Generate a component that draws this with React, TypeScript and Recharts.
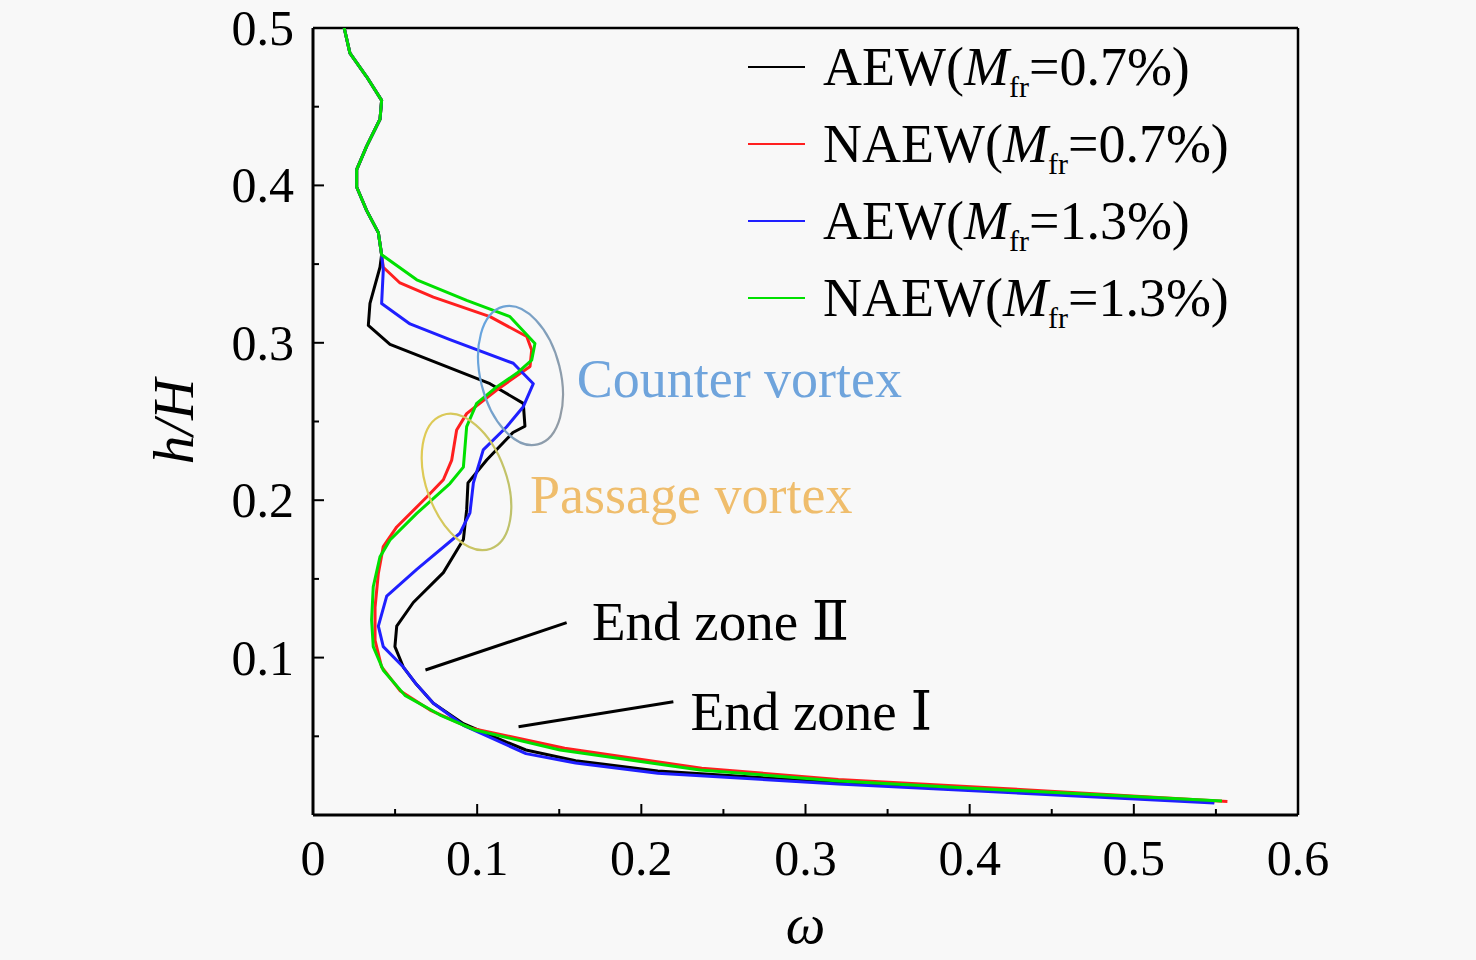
import React from 'react'
import { LineChart, Line, XAxis, YAxis, Legend, ReferenceLine, ReferenceDot } from 'recharts'

const FONT = "'Liberation Serif', 'Times New Roman', 'DejaVu Serif', serif"

// axis ticks (major every 0.1, minor in between)
const xTicks = [0, 0.05, 0.1, 0.15, 0.2, 0.25, 0.3, 0.35, 0.4, 0.45, 0.5, 0.55, 0.6]
const yTicks = [0.05, 0.1, 0.15, 0.2, 0.25, 0.3, 0.35, 0.4, 0.45, 0.5]

// [omega, h/H] – upper part shared by all four cases
const upperProfile: [number, number][] = [
  [0.019, 0.5], [0.0225, 0.484], [0.0327, 0.469], [0.0418, 0.454], [0.0408, 0.442],
  [0.0327, 0.425], [0.0266, 0.41], [0.0266, 0.399], [0.0327, 0.384], [0.0398, 0.37],
  [0.0418, 0.356],
]

const aew07Lower: [number, number][] = [
  [0.0408, 0.348], [0.0347, 0.325], [0.0337, 0.311], [0.0469, 0.299], [0.1078, 0.274],
  [0.1281, 0.2615], [0.1291, 0.247], [0.1218, 0.243], [0.1058, 0.2255], [0.0944, 0.211],
  [0.0936, 0.194], [0.0916, 0.175], [0.0794, 0.154], [0.0611, 0.135], [0.051, 0.12],
  [0.0499, 0.107], [0.055, 0.094], [0.063, 0.083], [0.0733, 0.071], [0.0916, 0.058],
  [0.1139, 0.048], [0.1297, 0.0413], [0.16, 0.0345], [0.21, 0.028], [0.32, 0.0206],
  [0.4204, 0.0156], [0.549, 0.0083],
]

const naew07Lower: [number, number][] = [
  [0.0428, 0.348], [0.053, 0.338], [0.0733, 0.329], [0.1078, 0.3166], [0.1302, 0.304],
  [0.1332, 0.2954], [0.1322, 0.285], [0.1119, 0.27], [0.0936, 0.255], [0.0875, 0.2446],
  [0.0845, 0.2255], [0.0794, 0.213], [0.0693, 0.202], [0.051, 0.183], [0.0428, 0.1705],
  [0.0398, 0.1535], [0.0378, 0.132], [0.0378, 0.111], [0.0418, 0.094], [0.053, 0.079],
  [0.0713, 0.0667], [0.0956, 0.0553], [0.1533, 0.0424], [0.2368, 0.0297], [0.32, 0.0226],
  [0.4204, 0.0169], [0.557, 0.0085],
]

const aew13Lower: [number, number][] = [
  [0.0428, 0.346], [0.0418, 0.325], [0.0591, 0.312], [0.0834, 0.302], [0.122, 0.287],
  [0.1342, 0.274], [0.1281, 0.2594], [0.118, 0.2467], [0.1037, 0.232], [0.0977, 0.211],
  [0.0956, 0.192], [0.0895, 0.179], [0.0632, 0.156], [0.0449, 0.139], [0.0398, 0.12],
  [0.0428, 0.107], [0.055, 0.094], [0.063, 0.083], [0.0733, 0.071], [0.0916, 0.057],
  [0.1297, 0.039], [0.16, 0.033], [0.21, 0.0265], [0.32, 0.0197], [0.4204, 0.0144],
  [0.549, 0.0076],
]

const naew13Lower: [number, number][] = [
  [0.0632, 0.34], [0.0936, 0.327], [0.12, 0.3166], [0.1352, 0.2996], [0.1332, 0.289],
  [0.1241, 0.2806], [0.1119, 0.272], [0.0997, 0.2615], [0.0936, 0.2467], [0.0916, 0.221],
  [0.0834, 0.2106], [0.0632, 0.1916], [0.0469, 0.1747], [0.0408, 0.164], [0.0367, 0.145],
  [0.0357, 0.124], [0.0367, 0.107], [0.0428, 0.092], [0.056, 0.076], [0.0774, 0.0635],
  [0.0987, 0.054], [0.1505, 0.0413], [0.2357, 0.0286], [0.3204, 0.0216], [0.4204, 0.0159],
  [0.5537, 0.0089],
]

const seriesNames = ['AEW', 'NAEW', 'AEW', 'NAEW']
const seriesMfr = ['0.7%', '0.7%', '1.3%', '1.3%']
const seriesColors = ['#000000', '#ff1f1f', '#1f1fff', '#00e000']
const seriesLower = [aew07Lower, naew07Lower, aew13Lower, naew13Lower]

const toPoints = (pts: [number, number][]) => pts.map(([w, h]) => ({ w, h }))
const seriesData = seriesLower.map(lower => toPoints([...upperProfile, ...lower]))

// annotations, in data coordinates
const vortexRings = [
  { w: 0.1264, h: 0.2792, id: 'ringCounter', from: '#5fa6ea', to: '#9a9a9a', angle: -14 },
  { w: 0.0935, h: 0.2116, id: 'ringPassage', from: '#e6cc50', to: '#b8c070', angle: -20 },
]
const vortexLabels = [
  { w: 0.1606, h: 0.2656, text: 'Counter vortex', color: '#6fa4dc' },
  { w: 0.1322, h: 0.1919, text: 'Passage vortex', color: '#efbd6c' },
]
const zoneLabels = [
  { w: 0.1699, h: 0.1112, text: 'End zone Ⅱ' },
  { w: 0.23, h: 0.054, text: 'End zone Ⅰ' },
]
const zoneLeaders = [
  [{ x: 0.0685, y: 0.0921 }, { x: 0.1545, y: 0.1222 }],
  [{ x: 0.1252, y: 0.0561 }, { x: 0.2195, y: 0.072 }],
]

const isMajor = (v: number) => Math.abs(v * 10 - Math.round(v * 10)) < 1e-6
const fmt = (v: number) => (v === 0 ? '0' : v.toFixed(1))

function XTick({ x, y, payload }: any) {
  const v = payload.value
  const major = isMajor(v)
  return (
    <g>
      <line x1={x} x2={x} y1={y} y2={y - (major ? 11 : 6)} stroke="#000" strokeWidth={2} />
      {major && (
        <text x={x} y={y + 60} textAnchor="middle" fontSize={50} fontFamily={FONT} fill="#000">
          {fmt(v)}
        </text>
      )}
    </g>
  )
}

function YTick({ x, y, payload }: any) {
  const v = payload.value
  const major = isMajor(v)
  return (
    <g>
      <line x1={x} x2={x + (major ? 11 : 6)} y1={y} y2={y} stroke="#000" strokeWidth={2} />
      {major && (
        <text x={x - 19} y={y + 17} textAnchor="end" fontSize={50} fontFamily={FONT} fill="#000">
          {fmt(v)}
        </text>
      )}
    </g>
  )
}

const renderLegend = () => (
  <div style={{ fontFamily: FONT, fontSize: 54, color: '#000' }}>
    {seriesNames.map((n, i) => (
      <div key={i} style={{ display: 'flex', alignItems: 'center', height: 77, whiteSpace: 'nowrap' }}>
        <span style={{ display: 'inline-block', width: 57, height: 2, background: seriesColors[i], marginRight: 18 }} />
        <span>
          {n}(<i>M</i>
          <span style={{ fontSize: 30, position: 'relative', top: 12 }}>fr</span>={seriesMfr[i]})
        </span>
      </div>
    ))}
  </div>
)

export default function App() {
  return (
    <div style={{ position: 'absolute', left: 0, top: 0, width: 1476, height: 960, background: '#f8f8f8' }}>
      <LineChart width={1476} height={960} margin={{ top: 28, right: 178, left: 253, bottom: 85 }}>
        <XAxis
          type="number"
          dataKey="w"
          domain={[0, 0.6]}
          ticks={xTicks}
          interval={0}
          allowDataOverflow
          tickSize={0}
          tickMargin={0}
          tickLine={false}
          tick={<XTick />}
          height={60}
          axisLine={{ stroke: '#000', strokeWidth: 3 }}
          label={{
            content: ({ viewBox }: any) => (
              <text x={viewBox.x + viewBox.width / 2} y={viewBox.y + 128} textAnchor="middle"
                fontSize={56} fontStyle="italic" fontFamily={FONT} fill="#000">ω</text>
            ),
          }}
        />
        <YAxis
          type="number"
          dataKey="h"
          domain={[0, 0.5]}
          ticks={yTicks}
          interval={0}
          allowDataOverflow
          tickSize={0}
          tickMargin={0}
          tickLine={false}
          tick={<YTick />}
          width={60}
          axisLine={{ stroke: '#000', strokeWidth: 3 }}
          label={{
            content: ({ viewBox }: any) => {
              const cx = viewBox.x - 60
              const cy = viewBox.y + viewBox.height / 2
              return (
                <text x={cx} y={cy} transform={`rotate(-90 ${cx} ${cy})`} textAnchor="middle"
                  fontSize={57} fontStyle="italic" fontFamily={FONT} fill="#000">h/H</text>
              )
            },
          }}
        />
        <ReferenceLine y={0.5} stroke="#000" strokeWidth={2.5} />
        <ReferenceLine x={0.6} stroke="#000" strokeWidth={2.5} />

        {seriesData.map((d, i) => (
          <Line
            key={i}
            data={d}
            dataKey="h"
            name={`${seriesNames[i]}(${seriesMfr[i]})`}
            type="linear"
            stroke={seriesColors[i]}
            strokeWidth={3}
            strokeLinejoin="round"
            dot={false}
            isAnimationActive={false}
          />
        ))}

        {vortexRings.map(r => (
          <ReferenceDot
            key={r.id}
            x={r.w}
            y={r.h}
            r={0}
            shape={(p: any) => (
              <g>
                <defs>
                  <linearGradient id={r.id} x1="0" y1="0" x2="1" y2="1">
                    <stop offset="0%" stopColor={r.from} />
                    <stop offset="100%" stopColor={r.to} />
                  </linearGradient>
                </defs>
                <ellipse cx={p.cx} cy={p.cy} rx={40} ry={71} fill="none" stroke={`url(#${r.id})`}
                  strokeWidth={2.2} transform={`rotate(${r.angle} ${p.cx} ${p.cy})`} />
              </g>
            )}
          />
        ))}
        {vortexLabels.map(l => (
          <ReferenceDot
            key={l.text}
            x={l.w}
            y={l.h}
            r={0}
            shape={(p: any) => (
              <text x={p.cx} y={p.cy} fontSize={54} fontFamily={FONT} fill={l.color}>{l.text}</text>
            )}
          />
        ))}
        {zoneLeaders.map((s, i) => (
          <ReferenceLine key={i} segment={s} stroke="#000" strokeWidth={3} />
        ))}
        {zoneLabels.map(l => (
          <ReferenceDot
            key={l.text}
            x={l.w}
            y={l.h}
            r={0}
            shape={(p: any) => (
              <text x={p.cx} y={p.cy} fontSize={55} fontFamily={FONT} fill="#000">{l.text}</text>
            )}
          />
        ))}

        <Legend
          layout="vertical"
          align="center"
          verticalAlign="middle"
          content={renderLegend}
          wrapperStyle={{ top: 28, left: 748, width: 'auto', height: 'auto' }}
        />
      </LineChart>
    </div>
  )
}
